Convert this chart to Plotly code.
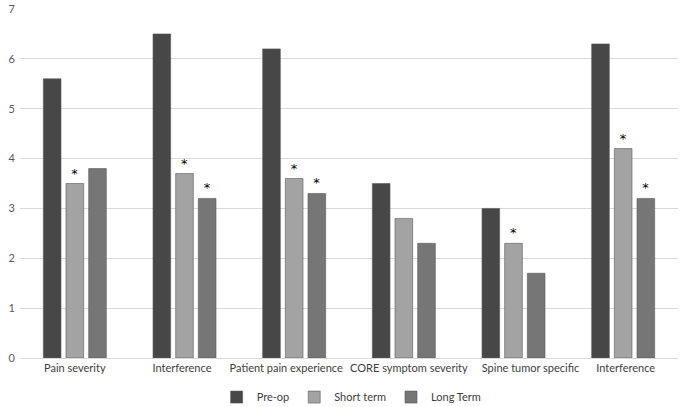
import plotly.graph_objects as go

categories = ["Pain severity", "Interference", "Patient pain experience",
              "CORE symptom severity", "Spine tumor specific", "Interference"]
series_names = ["Pre-op", "Short term", "Long Term"]
pre_op = [5.6, 6.5, 6.2, 3.5, 3.0, 6.3]
short_term = [3.5, 3.7, 3.6, 2.8, 2.3, 4.2]
long_term = [3.8, 3.2, 3.3, 2.3, 1.7, 3.2]
sig_pre = [False, False, False, False, False, False]
sig_short = [True, True, True, False, True, True]
sig_long = [False, True, True, False, False, True]
y_ticks = [0, 1, 2, 3, 4, 5, 6, 7]

colors = ["#474747", "#a3a3a3", "#767676"]
x_pos = list(range(len(categories)))
# small label nudges (layout only), mimicking the reference label placement
label_nudge = [0.0, -0.023, -0.073, 0.046, 0.155, 0.023]
tick_pos = [p + n for p, n in zip(x_pos, label_nudge)]

fig = go.Figure()
for name, vals, sig, col in zip(series_names, [pre_op, short_term, long_term],
                                [sig_pre, sig_short, sig_long], colors):
    fig.add_trace(go.Bar(
        x=x_pos, y=vals, name=name,
        marker=dict(color=col, line=dict(color="#5a5a5a", width=0.6)),
        text=["*" if s else "" for s in sig],
        textposition="outside",
        outsidetextfont=dict(color="#000000", size=13, family="DejaVu Sans"),
        cliponaxis=False,
    ))

fig.update_layout(
    width=685, height=407,
    margin=dict(l=20, r=7, t=9, b=49, autoexpand=False),
    paper_bgcolor="white", plot_bgcolor="white",
    barmode="group", bargap=0.38, bargroupgap=0.22,
    font=dict(family="Lato, Open Sans, sans-serif", size=11, color="#595959"),
    xaxis=dict(tickmode="array", tickvals=tick_pos, ticktext=categories,
               range=[-0.5, len(categories) - 0.5], showgrid=False,
               showline=True, linecolor="#d9d9d9", linewidth=1,
               ticks="", tickangle=0, automargin=False,
               tickfont=dict(size=11, color="#404040")),
    yaxis=dict(range=[0, 7], tickvals=y_ticks, showgrid=True,
               gridcolor="#d9d9d9", gridwidth=1, zeroline=False,
               ticks="", automargin=False,
               tickfont=dict(size=11, color="#595959"),
               ticklabelstandoff=4),
    legend=dict(orientation="h", x=0.504, xanchor="center", y=-0.112,
                yanchor="middle", font=dict(size=11, color="#404040"),
                itemwidth=30, traceorder="normal"),
    uniformtext=dict(minsize=8, mode="show"),
)

fig.write_html("out.html",
               config={"displayModeBar": False},
               post_script="document.body.style.margin='0px';"
                           "document.body.style.overflow='hidden';")
